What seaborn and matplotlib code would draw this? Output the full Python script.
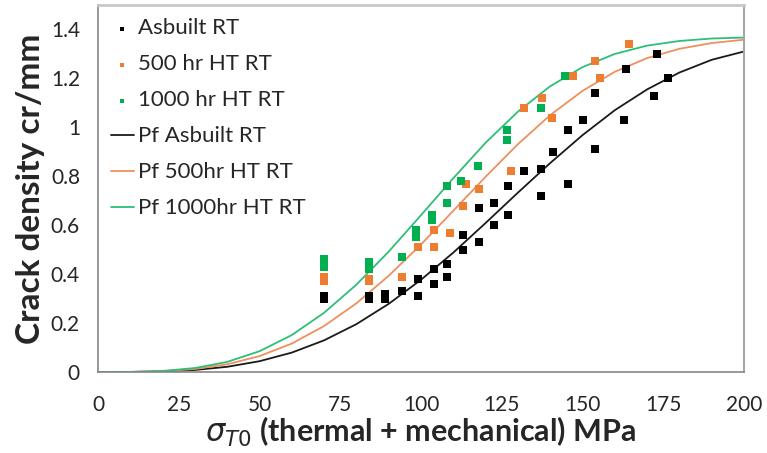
import matplotlib
matplotlib.use("Agg")
import matplotlib.pyplot as plt
import seaborn as sns
import pandas as pd

# ---- data ----
asbuilt_x = [70, 70, 84, 84, 89, 89, 94, 99, 99, 104, 104, 108, 108, 113, 113, 118, 118,
             122.5, 122.5, 127, 127, 132, 137, 137, 141, 145.5, 145.5, 150, 154, 154,
             163.5, 163, 173, 172, 176.5]
asbuilt_y = [0.31, 0.30, 0.31, 0.30, 0.32, 0.30, 0.33, 0.38, 0.31, 0.42, 0.36, 0.44, 0.39,
             0.56, 0.50, 0.67, 0.53, 0.69, 0.60, 0.76, 0.64, 0.82, 0.83, 0.72, 0.90, 0.99,
             0.77, 1.03, 1.14, 0.91, 1.24, 1.03, 1.30, 1.13, 1.20]

ht500_x = [70, 70, 84, 84, 94, 99, 104, 104, 109, 113, 114, 118, 128, 132, 137.5, 140.5,
           147, 154, 155.5, 164.5]
ht500_y = [0.39, 0.37, 0.38, 0.37, 0.39, 0.51, 0.58, 0.51, 0.57, 0.68, 0.77, 0.75, 0.82,
           1.08, 1.12, 1.04, 1.21, 1.27, 1.20, 1.34]

ht1000_x = [70, 70, 84, 84, 94, 98.5, 98.5, 103.5, 103.5, 108, 108, 112.5, 117.5, 126.5,
            126.5, 137, 144.5]
ht1000_y = [0.46, 0.43, 0.45, 0.42, 0.47, 0.58, 0.55, 0.64, 0.62, 0.76, 0.69, 0.78, 0.84,
            0.99, 0.95, 1.08, 1.21]

sigma_grid = [0, 10, 20, 30, 40, 50, 60, 70, 80, 90, 100, 110, 120, 130, 140, 150, 160,
              170, 180, 190, 200]
pf_asbuilt = [0, 0.0002, 0.0022, 0.0083, 0.0213, 0.0441, 0.0793, 0.1294, 0.1956, 0.2785,
              0.377, 0.488, 0.609, 0.733, 0.854, 0.968, 1.070, 1.155, 1.224, 1.276, 1.310]
pf_500 = [0, 0.0003, 0.0032, 0.0123, 0.0315, 0.065, 0.1163, 0.188, 0.2807, 0.3932, 0.5213,
          0.659, 0.798, 0.931, 1.050, 1.149, 1.227, 1.283, 1.321, 1.3445, 1.358]
pf_1000 = [0, 0.0004, 0.0042, 0.0162, 0.0413, 0.0849, 0.151, 0.242, 0.357, 0.492, 0.641,
           0.792, 0.937, 1.064, 1.168, 1.246, 1.300, 1.334, 1.353, 1.363, 1.367]

x_ticks = [0, 25, 50, 75, 100, 125, 150, 175, 200]
y_ticks = [0, 0.2, 0.4, 0.6, 0.8, 1.0, 1.2, 1.4]
y_ticklabels = ["0", "0.2", "0.4", "0.6", "0.8", "1", "1.2", "1.4"]

# ---- styling ----
sns.set_style("white")
plt.rcParams["font.family"] = ["Lato", "DejaVu Sans"]
plt.rcParams["mathtext.fontset"] = "dejavusans"

fig = plt.figure(figsize=(7.67, 4.53), dpi=100)
ax = fig.add_axes([98 / 767, 1 - 372 / 453, (744 - 98) / 767, (372 - 5) / 453])

line_specs = [
    ("Pf Asbuilt RT", pf_asbuilt, "#1a1a1a"),
    ("Pf 500hr HT RT", pf_500, "#ee8f5e"),
    ("Pf 1000hr HT RT", pf_1000, "#2dbf78"),
]
for lab, vals, col in line_specs:
    df = pd.DataFrame({"x": sigma_grid, "y": vals})
    sns.lineplot(data=df, x="x", y="y", ax=ax, color=col, linewidth=1.3, label=lab,
                 zorder=2, sort=True)

pt_specs = [
    ("Asbuilt RT", asbuilt_x, asbuilt_y, "#000000"),
    ("500 hr HT RT", ht500_x, ht500_y, "#ed7d31"),
    ("1000 hr HT RT", ht1000_x, ht1000_y, "#00b050"),
]
for lab, xs, ys, col in pt_specs:
    df = pd.DataFrame({"x": xs, "y": ys})
    sns.scatterplot(data=df, x="x", y="y", ax=ax, color=col, marker="s", s=30,
                    linewidth=0, label=lab, zorder=3)

ax.set_xlim(0, 200)
ax.set_ylim(0, 1.5)
ax.set_xticks(x_ticks)
ax.set_xticklabels([str(t) for t in x_ticks])
ax.set_yticks(y_ticks)
ax.set_yticklabels(y_ticklabels)
ax.tick_params(axis="both", labelsize=15, colors="#262626", length=4, width=1,
               color="#868686")
ax.tick_params(axis="x", direction="inout", length=7, pad=13)
ax.tick_params(axis="y", direction="out", pad=9)

for side in ["left", "bottom"]:
    ax.spines[side].set_color("#868686")
    ax.spines[side].set_linewidth(1.2)
ax.spines["right"].set_color("#a6a6a6")
ax.spines["right"].set_linewidth(1.5)
ax.spines["top"].set_color("#c8c8c8")
ax.spines["top"].set_linewidth(2)
for s in ax.spines.values():
    s.set_visible(True)

ax.set_xlabel(r"$\sigma_{T0}$ (thermal + mechanical) MPa", fontsize=22,
              fontweight="bold", labelpad=0)
ax.set_ylabel("Crack density cr/mm", fontsize=24, fontweight="bold", labelpad=4)

handles, labels = ax.get_legend_handles_labels()
order = ["Asbuilt RT", "500 hr HT RT", "1000 hr HT RT",
         "Pf Asbuilt RT", "Pf 500hr HT RT", "Pf 1000hr HT RT"]
hmap = dict(zip(labels, handles))
leg = ax.legend([hmap[k] for k in order], order, loc="upper left",
                bbox_to_anchor=(0.0, 1.0), frameon=False, fontsize=16,
                handlelength=1.0, handletextpad=0.2, labelspacing=0.72,
                markerscale=0.6, borderaxespad=0.2)
for t in leg.get_texts():
    t.set_color("#262626")

fig.savefig("out.png", dpi=100)
